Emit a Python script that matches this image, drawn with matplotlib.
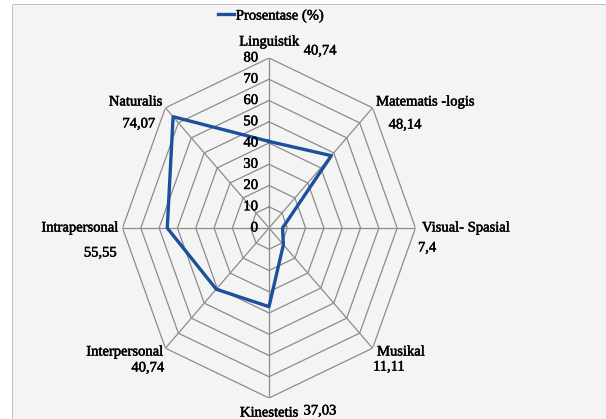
import numpy as np
import matplotlib
matplotlib.use("Agg")
import matplotlib.pyplot as plt
import matplotlib.patheffects as pe
from matplotlib.patches import Rectangle
from matplotlib.transforms import ScaledTranslation

categories = ["Linguistik", "Matematis -logis", "Visual- Spasial", "Musikal",
              "Kinestetis", "Interpersonal", "Intrapersonal", "Naturalis"]
values = [40.74, 48.14, 7.4, 11.11, 37.03, 40.74, 55.55, 74.07]
value_labels = ["40,74", "48,14", "7,4", "11,11", "37,03", "40,74", "55,55", "74,07"]
rings = [10, 20, 30, 40, 50, 60, 70, 80]
ring_labels = [0, 10, 20, 30, 40, 50, 60, 70, 80]
series_name = "Prosentase (%)"

plt.rcParams["font.family"] = ["Liberation Serif", "DejaVu Serif"]
plt.rcParams["path.effects"] = [pe.withStroke(linewidth=0.35, foreground="black")]

W, H = 606, 419
fig = plt.figure(figsize=(W / 100, H / 100), dpi=100)
fig.patch.set_facecolor("white")
fig.patches.append(Rectangle((13 / W, 0), 1 - 13 / W, 1 - 5 / H, transform=fig.transFigure,
                             facecolor="#f4f4f4", edgecolor="none", zorder=-10))

# elliptical radar: center (269,228) px, rx 146.5, ry 170
cx, cy, rx, ry = 269, 228, 146.5, 170
ax = fig.add_axes([(cx - rx) / W, (H - cy - ry) / H, 2 * rx / W, 2 * ry / H], projection="polar")
ax.set_aspect("auto")
ax.set_theta_zero_location("N")
ax.set_theta_direction(-1)
ax.set_ylim(0, 80)
ax.patch.set_visible(False)
ax.grid(False)
ax.spines["polar"].set_visible(False)
ax.set_xticks([])
ax.set_yticks([])

n = len(categories)
theta = np.arange(n) * 2 * np.pi / n
theta_closed = np.append(theta, theta[0])

for r in rings:
    ax.plot(theta_closed, [r] * (n + 1), color="#8c8c8c", lw=0.9, zorder=1, path_effects=[])
for t in theta:
    ax.plot([t, t], [0, 80], color="#8c8c8c", lw=0.9, zorder=1, path_effects=[])

ax.plot(theta_closed, values + [values[0]], color="#1c4f9c", lw=2.4, zorder=3,
        label=series_name, path_effects=[])

fs = 10.5
shift = ax.transData + ScaledTranslation(-11 / 100, 0, fig.dpi_scale_trans)
for r in ring_labels:
    ax.text(0, r, str(r), transform=shift, fontsize=fs, ha="right", va="center", zorder=4)

def px(x, y):
    return x / W, 1 - y / H

cat_pos = [(269, 42, "center"), (425, 102, "center"), (422, 228, "left"), (377, 352, "left"),
           (269, 413, "center"), (163, 352, "right"), (118, 228, "right"), (162, 102, "right")]
val_pos = [(320, 51, "center"), (405, 125, "center"), (418, 248, "left"), (373, 367, "left"),
           (320, 411, "center"), (164, 368, "right"), (117, 253, "right"), (155, 124, "right")]
for name, (x, y, ha) in zip(categories, cat_pos):
    fig.text(*px(x, y), name, fontsize=fs, ha=ha, va="center")
for lab, (x, y, ha) in zip(value_labels, val_pos):
    fig.text(*px(x, y), lab, fontsize=fs, ha=ha, va="center")

fig.legend(loc="center", bbox_to_anchor=px(271, 16), frameon=False, fontsize=fs,
           handlelength=1.1, handletextpad=0.1, borderpad=0)

fig.savefig("out.png", dpi=100)
